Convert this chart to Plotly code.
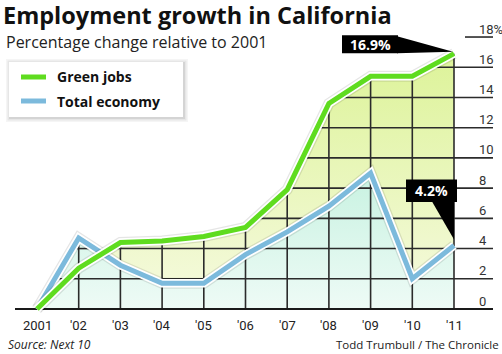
import numpy as np
import plotly.graph_objects as go

# ---------------- data ----------------
years = [2001, 2002, 2003, 2004, 2005, 2006, 2007, 2008, 2009, 2010, 2011]
year_labels = ["2001", "'02", "'03", "'04", "'05", "'06", "'07", "'08", "'09", "'10", "'11"]
green_jobs = [0, 2.7, 4.4, 4.5, 4.8, 5.4, 7.9, 13.6, 15.4, 15.4, 16.9]
total_economy = [0, 4.7, 2.9, 1.7, 1.7, 3.6, 5.1, 6.8, 9.0, 2.0, 4.2]
y_ticks = [0, 2, 4, 6, 8, 10, 12, 14, 16, 18]
y_tick_labels = ["0", "2", "4", "6", "8", "10", "12", "14", "16", "18%"]
green_label = "16.9%"
total_label = "4.2%"

# ---------------- layout geometry ----------------
W, H = 502, 354
ML, MR, MT, MB = 15, 7, 20, 39
PX_PER_YR = 41.7
PX_PER_UNIT = 15.11
X0_PX, Y0_PX = 37, 309  # pixel of (2001, 0)

def X(px):
    return years[0] + (px - X0_PX) / PX_PER_YR

def Y(py):
    return (Y0_PX - py) / PX_PER_UNIT

xr = [X(ML), X(W - MR)]
yr = [Y(H - MB), Y(MT)]

def PXp(px):  # pixel -> paper
    return (px - ML) / (W - ML - MR)

def PYp(py):
    return (H - MB - py) / (H - MT - MB)

GREEN = "#5fdc1f"
BLUE = "#7cbadc"
GRID = "#2b2b2b"
line_end = X(493)

fig = go.Figure()

# fills
fig.add_trace(go.Scatter(
    x=years, y=green_jobs, mode="none", fill="tozeroy",
    fillgradient=dict(type="vertical", colorscale=[[0, "#f6fae0"], [1, "#ddf399"]]),
    hoverinfo="skip", showlegend=False))
fig.add_trace(go.Scatter(
    x=years, y=total_economy, mode="none", fill="tozeroy",
    fillgradient=dict(type="vertical", colorscale=[[0, "#eefbf6"], [1, "#c8f2e1"]]),
    hoverinfo="skip", showlegend=False))

# gridlines clipped to the filled envelope
xs = np.linspace(years[0], years[-1], 4001)
env = np.maximum(np.interp(xs, years, green_jobs), np.interp(xs, years, total_economy))
gx, gy = [], []
for h in y_ticks[1:]:
    mask = env >= h
    runs = []
    i = 0
    while i < len(xs):
        if mask[i]:
            j = i
            while j + 1 < len(xs) and mask[j + 1]:
                j += 1
            runs.append([xs[i], xs[j]])
            i = j + 1
        else:
            i += 1
    if runs and runs[-1][1] >= years[-1] - 1e-9:
        runs[-1][1] = line_end
    else:
        runs.append([X(465), line_end])
    for a, b in runs:
        gx += [a, b, None]
        gy += [h, h, None]
for yv, gv, tv in zip(years[1:], green_jobs[1:], total_economy[1:]):
    gx += [yv, yv, None]
    gy += [0, max(gv, tv), None]
fig.add_trace(go.Scatter(x=gx, y=gy, mode="lines", line=dict(color=GRID, width=1.6),
                         hoverinfo="skip", showlegend=False))
# baseline
fig.add_trace(go.Scatter(x=[xr[0], line_end], y=[0, 0], mode="lines",
                         line=dict(color="#1a1a1a", width=2.2), hoverinfo="skip", showlegend=False))

# lines with white outline
for vals, col in [(total_economy, BLUE), (green_jobs, GREEN)]:
    fig.add_trace(go.Scatter(x=years, y=vals, mode="lines",
                             line=dict(color="rgba(0,0,0,0.10)", width=11),
                             hoverinfo="skip", showlegend=False))
    fig.add_trace(go.Scatter(x=years, y=vals, mode="lines",
                             line=dict(color="white", width=8.5),
                             hoverinfo="skip", showlegend=False))
    fig.add_trace(go.Scatter(x=years, y=vals, mode="lines",
                             line=dict(color=col, width=5),
                             hoverinfo="skip", showlegend=False))

shapes = []
annotations = []

# callouts
def tip_px(xv, yv):
    return X0_PX + (xv - years[0]) * PX_PER_YR, Y0_PX - yv * PX_PER_UNIT

tx, ty = tip_px(years[-1], green_jobs[-1])
shapes.append(dict(type="rect", xref="x", yref="y", x0=X(tx - 112), x1=X(tx - 56),
                   y0=Y(ty - 18.5), y1=Y(ty - 0.5), fillcolor="black", line=dict(width=0)))
shapes.append(dict(type="path", xref="x", yref="y",
                   path=f"M {X(tx-57)},{Y(ty-17.5)} L {X(tx-1)},{Y(ty-2)} L {X(tx-57)},{Y(ty-0.5)} Z",
                   fillcolor="black", line=dict(width=0)))
annotations.append(dict(x=X(tx - 84), y=Y(ty - 9.5), xref="x", yref="y", text=f"<b>{green_label}</b>",
                        showarrow=False, font=dict(family="Open Sans", size=14, color="white")))

tx, ty = tip_px(years[-1], total_economy[-1])
shapes.append(dict(type="rect", xref="x", yref="y", x0=X(tx - 48), x1=X(tx + 3),
                   y0=Y(ty - 66), y1=Y(ty - 43.5), fillcolor="black", line=dict(width=0)))
shapes.append(dict(type="path", xref="x", yref="y",
                   path=f"M {X(tx-22)},{Y(ty-44)} L {X(tx)},{Y(ty-44)} L {X(tx)},{Y(ty-6)} Z",
                   fillcolor="black", line=dict(width=0)))
annotations.append(dict(x=X(tx - 22.5), y=Y(ty - 55), xref="x", yref="y", text=f"<b>{total_label}</b>",
                        showarrow=False, font=dict(family="Open Sans", size=14, color="white")))

# right tick labels
for v, lab in zip(y_ticks, y_tick_labels):
    annotations.append(dict(x=X(477), y=v, xref="x", yref="y", text=lab, xanchor="left",
                            yanchor="middle", yshift=8, showarrow=False,
                            font=dict(family="Roboto", size=13, color="#333")))
# x tick labels
for yv, lab in zip(years, year_labels):
    annotations.append(dict(x=yv, y=0, xref="x", yref="paper", text=lab, xanchor="center",
                            yanchor="middle", yshift=-10, showarrow=False,
                            font=dict(family="Roboto", size=13, color="#222")))

# titles
annotations.append(dict(x=PXp(2), y=PYp(15.4), xref="paper", yref="paper", xanchor="left", yanchor="middle",
                        text="<b>Employment growth in California</b>", showarrow=False, borderpad=0,
                        font=dict(family="Open Sans", size=23.5, color="#111", weight=800)))
annotations.append(dict(x=PXp(5), y=PYp(41.8), xref="paper", yref="paper", xanchor="left", yanchor="middle",
                        text="Percentage change relative to 2001", showarrow=False, borderpad=0,
                        font=dict(family="Open Sans", size=16, color="#222")))
annotations.append(dict(x=PXp(7), y=PYp(344), xref="paper", yref="paper", xanchor="left", yanchor="middle",
                        text="<i>Source: Next 10</i>", showarrow=False, borderpad=0,
                        font=dict(family="Open Sans", size=12, color="#222")))
annotations.append(dict(x=PXp(500), y=PYp(344), xref="paper", yref="paper", xanchor="right", yanchor="middle",
                        text="Todd Trumbull / The Chronicle", showarrow=False, borderpad=0,
                        font=dict(family="Open Sans", size=11.5, color="#222")))

# legend box
for off, op in [(5, 0.04), (3.5, 0.06), (2, 0.08)]:
    shapes.append(dict(type="rect", xref="paper", yref="paper", x0=PXp(9 - off + 2), x1=PXp(183 + off),
                       y0=PYp(117 + off), y1=PYp(62 - off + 2), fillcolor=f"rgba(0,0,0,{op})",
                       line=dict(width=0)))
shapes.append(dict(type="rect", xref="paper", yref="paper", x0=PXp(9), x1=PXp(183),
                   y0=PYp(117), y1=PYp(62), fillcolor="white", line=dict(width=0)))
for name, col, py in [("Green jobs", GREEN, 77), ("Total economy", BLUE, 101)]:
    shapes.append(dict(type="line", xref="paper", yref="paper", x0=PXp(21), x1=PXp(46),
                       y0=PYp(py), y1=PYp(py), line=dict(color=col, width=5)))
    annotations.append(dict(x=PXp(55), y=PYp(py), xref="paper", yref="paper", xanchor="left",
                            yanchor="middle", text=f"<b>{name}</b>", showarrow=False,
                            font=dict(family="Open Sans", size=14, color="#111")))

fig.update_layout(
    width=W, height=H,
    margin=dict(l=ML, r=MR, t=MT, b=MB, pad=0),
    paper_bgcolor="white", plot_bgcolor="white",
    xaxis=dict(range=xr, visible=False, fixedrange=True),
    yaxis=dict(range=yr, visible=False, fixedrange=True),
    shapes=shapes, annotations=annotations,
    showlegend=False,
)
fig.write_html("out.html", config={"displayModeBar": False})
